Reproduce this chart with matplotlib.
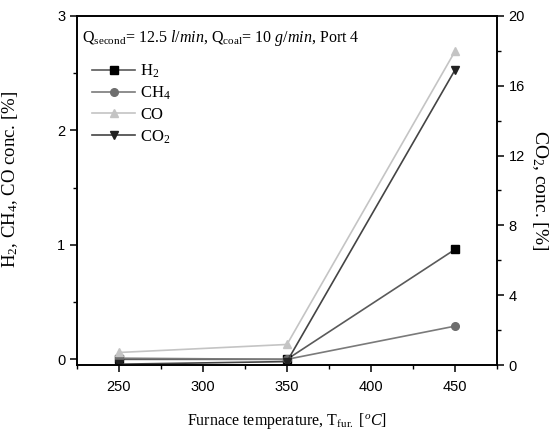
import matplotlib

matplotlib.use("Agg")

import matplotlib.pyplot as plt
from matplotlib.ticker import MultipleLocator

# data
TEMPS = [250, 350, 450]
H2 = [0.0, 0.0, 0.96]
CH4 = [0.01, 0.0, 0.29]
CO = [0.06, 0.13, 2.69]
CO2 = [0.05, 0.2, 16.9]

SERIF = "Liberation Serif"
SANS = "Liberation Sans"

plt.rcParams.update(
    {
        "font.family": SANS,
        "mathtext.fontset": "custom",
        "mathtext.rm": SERIF,
        "mathtext.it": f"{SERIF}:italic",
        "mathtext.bf": f"{SERIF}:bold",
        "xtick.direction": "out",
        "ytick.direction": "out",
        "axes.linewidth": 1.2,
    }
)

fig = plt.figure(figsize=(5.54, 4.30), dpi=100)
ax = fig.add_axes([0.139, 0.151, 0.758, 0.812])
ax2 = ax.twinx()

line_kw = dict(linewidth=1.2, markersize=5.5)
h_h2, = ax.plot(TEMPS, H2, color="#5a5a5a", marker="s", markerfacecolor="black",
                markeredgecolor="black", label="H$_2$", **line_kw)
h_ch4, = ax.plot(TEMPS, CH4, color="#7a7a7a", marker="o", markerfacecolor="#6e6e6e",
                 markeredgecolor="#6e6e6e", label="CH$_4$", **line_kw)
h_co, = ax.plot(TEMPS, CO, color="#c4c4c4", marker="^", markerfacecolor="#c4c4c4",
                markeredgecolor="#c4c4c4", label="CO", **line_kw)
h_co2, = ax2.plot(TEMPS, CO2, color="#444444", marker="v", markerfacecolor="#222222",
                  markeredgecolor="#222222", label="CO$_2$", **line_kw)

ax.set_xlim(225, 475)
ax.set_ylim(-0.05, 3)
ax2.set_ylim(0, 20)

ax.xaxis.set_major_locator(MultipleLocator(50))
ax.xaxis.set_minor_locator(MultipleLocator(25))
ax.yaxis.set_major_locator(MultipleLocator(1))
ax.yaxis.set_minor_locator(MultipleLocator(0.5))
ax2.yaxis.set_major_locator(MultipleLocator(4))
ax2.yaxis.set_minor_locator(MultipleLocator(2))

for a in (ax, ax2):
    a.tick_params(which="major", length=5, width=1.1, labelsize=10.5)
    a.tick_params(which="minor", length=3, width=1.0)
ax.tick_params(axis="x", pad=6)

ax.set_xlabel("Furnace temperature, T$_{\\mathrm{fur.}}$ [$^{o}$$\\it{C}$]", family=SERIF,
              fontsize=11.5, labelpad=12)
ax.set_ylabel("H$_2$, CH$_4$, CO conc. [%]", family=SERIF, fontsize=13.5, labelpad=16)
ax.yaxis.set_label_coords(-0.135, 0.53)
ax2.set_ylabel("CO$_2$, conc. [%]", family=SERIF, fontsize=14, rotation=270, labelpad=18)

ax.text(0.012, 0.965,
        "Q$_{\\mathrm{second}}$= 12.5 $\\it{l/min}$, Q$_{\\mathrm{coal}}$= 10 $\\it{g/min}$, Port 4",
        transform=ax.transAxes, ha="left", va="top", family=SERIF, fontsize=11.5)

ax2.legend(
    [h_h2, h_ch4, h_co, h_co2],
    ["H$_2$", "CH$_4$", "CO", "CO$_2$"],
    loc="upper left",
    bbox_to_anchor=(0.0, 0.91),
    frameon=False,
    prop={"family": SERIF, "size": 12},
    handlelength=2.6,
    handletextpad=0.3,
    labelspacing=0.3,
)

fig.savefig("out.png", dpi=100)
